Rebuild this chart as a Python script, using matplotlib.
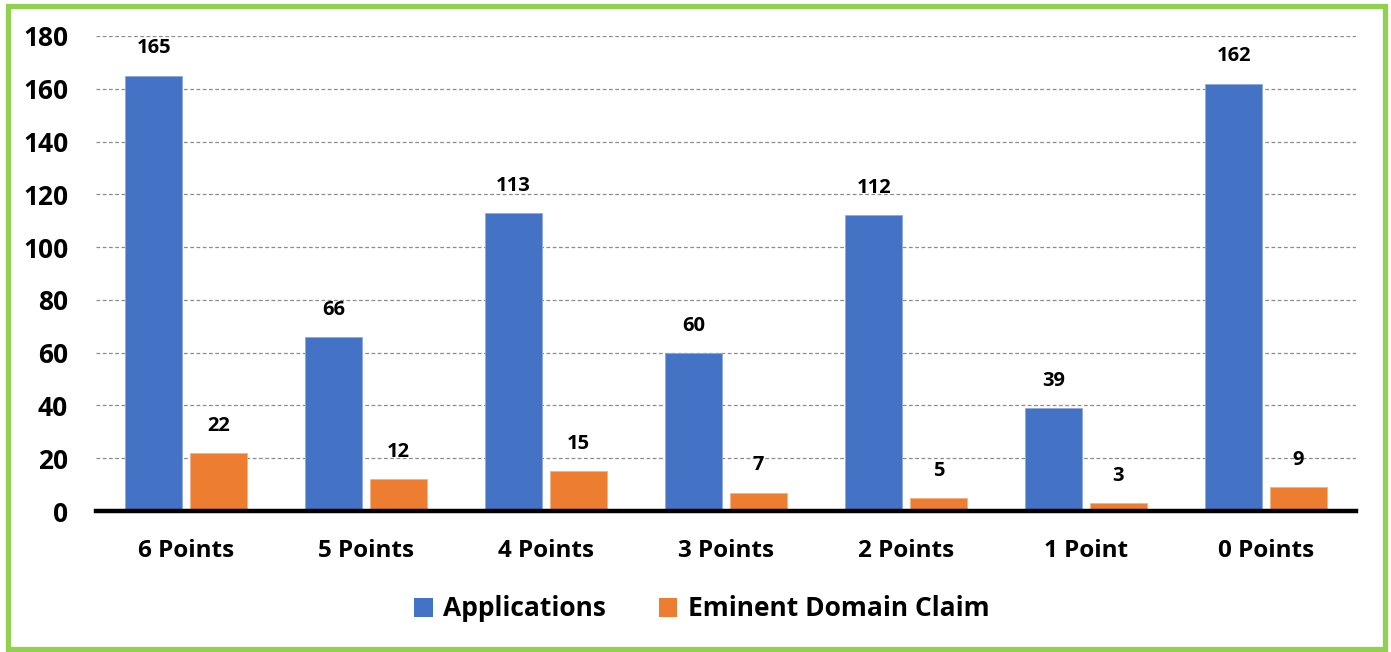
import matplotlib
matplotlib.use("Agg")
import matplotlib.pyplot as plt
import numpy as np
from matplotlib.patches import Rectangle, Patch

categories = ["6 Points", "5 Points", "4 Points", "3 Points", "2 Points", "1 Point", "0 Points"]
applications = [165, 66, 113, 60, 112, 39, 162]
eminent_domain = [22, 12, 15, 7, 5, 3, 9]
series_names = ["Applications", "Eminent Domain Claim"]
yticks = [0, 20, 40, 60, 80, 100, 120, 140, 160, 180]

BLUE = "#4472C4"
ORANGE = "#ED7D31"
GREEN = "#92D050"

plt.rcParams['font.family'] = ['Open Sans', 'DejaVu Sans']
plt.rcParams['font.weight'] = 'bold'

W, H = 1391, 652
fig = plt.figure(figsize=(W / 100, H / 100), dpi=100)
ax = fig.add_axes([96 / W, 1 - 511 / H, (1356 - 96) / W, (511 - 36) / H])

x = np.arange(len(categories))
bw = 0.317
off = 0.18
b1 = ax.bar(x - off, applications, bw, color=BLUE, edgecolor="#8FAADC", linewidth=0.6, zorder=3)
b2 = ax.bar(x + off, eminent_domain, bw, color=ORANGE, edgecolor="#F4B183", linewidth=0.6, zorder=3)

for bars, vals in ((b1, applications), (b2, eminent_domain)):
    for r, v in zip(bars, vals):
        ax.text(r.get_x() + r.get_width() / 2, v + 6.5, str(v), ha="center", va="bottom",
                fontsize=14.5, fontweight="bold", color="black")

ax.set_xlim(-0.5, len(categories) - 0.5)
ax.set_ylim(0, 180)
ax.set_yticks(yticks)
ax.set_yticklabels([str(t) for t in yticks], fontsize=19, fontweight="bold")
ax.set_xticks(x)
ax.set_xticklabels(categories, fontsize=17.5, fontweight="bold")
ax.tick_params(axis="both", length=0)
ax.tick_params(axis="y", pad=20)
ax.tick_params(axis="x", pad=20)
ax.grid(axis="y", linestyle=(0, (3, 2)), color="#8C8C8C", linewidth=0.9, zorder=0)
for s in ("top", "right", "left"):
    ax.spines[s].set_visible(False)
ax.spines["bottom"].set_linewidth(3.2)
ax.spines["bottom"].set_color("black")
ax.spines["bottom"].set_zorder(4)

handles = [Patch(facecolor=BLUE), Patch(facecolor=ORANGE)]
fig.legend(handles, series_names, loc="center", bbox_to_anchor=(702 / W, 1 - 609 / H),
           ncol=2, frameon=False, prop={"size": 19, "weight": "bold"},
           handlelength=0.7, handleheight=0.7, handletextpad=0.4, columnspacing=2.0)

fig.patches.append(Rectangle((7.5 / W, 1 - 649 / H), (1384.5 - 7.5) / W, (649 - 5.5) / H,
                             transform=fig.transFigure, fill=False, edgecolor=GREEN,
                             linewidth=3.8, zorder=10))

fig.savefig("out.png", dpi=100)
